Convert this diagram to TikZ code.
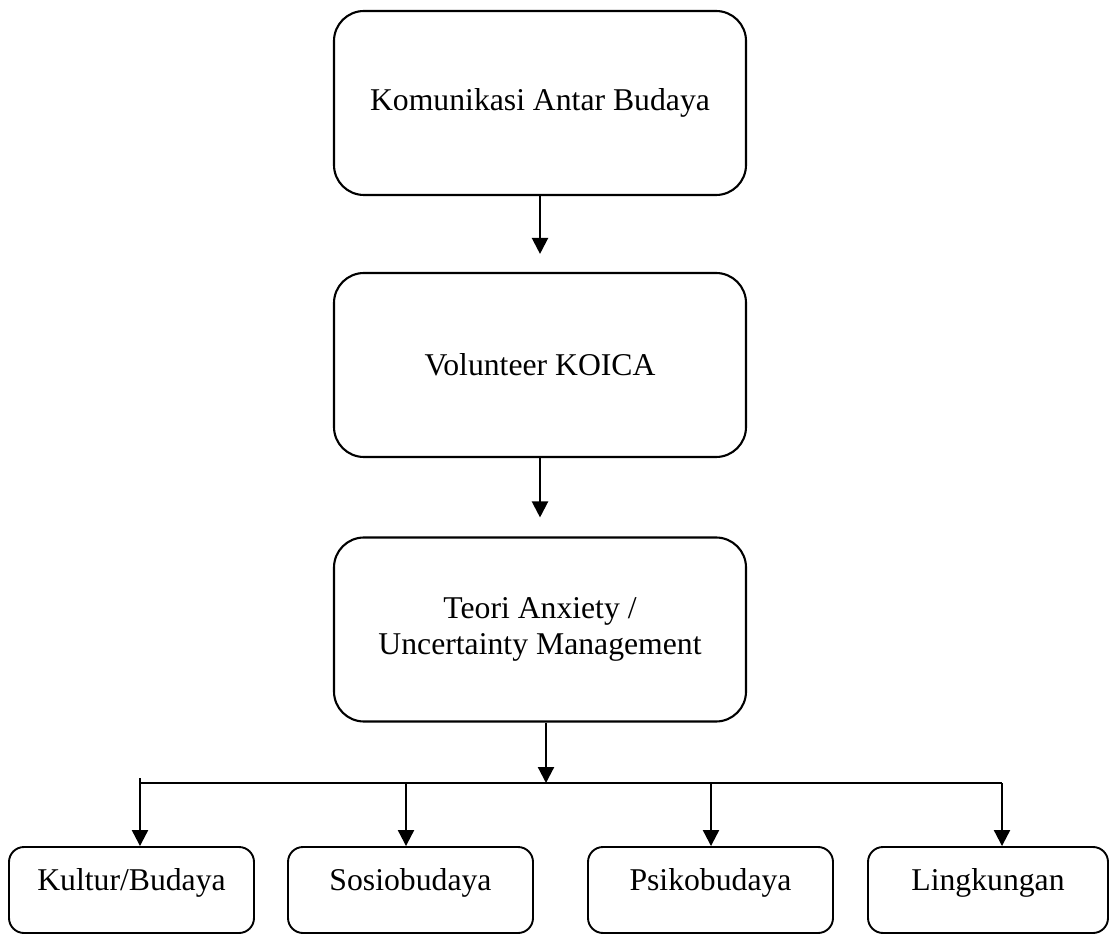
\documentclass[tikz,border=0pt]{standalone}
\usepackage{fontspec}
\setmainfont{Liberation Serif}
\usetikzlibrary{arrows.meta}
\tikzset{
  mainbox/.style={
    rounded corners=30pt,
    draw=black,
    line width=2.1pt,
    fill=white,
    align=center,
    font=\fontsize{31.7}{36}\selectfont,
    minimum width=412pt,
    minimum height=184pt
  },
  subbox/.style={
    rounded corners=15pt,
    draw=black,
    line width=1.9pt,
    fill=white,
    font=\fontsize{31.7}{36}\selectfont,
    text height=24pt,
    text depth=24pt,
    minimum width=245pt,
    minimum height=86pt
  },
  flowarrow/.style={line width=2.2pt, draw=black, -{Triangle[length=16pt, width=16pt]}},
  busline/.style={line width=1.7pt, draw=black}
}

\begin{document}
\begin{tikzpicture}[x=1pt,y=1pt]
\path[use as bounding box] (0,0) rectangle (1110,935);
\fill[white] (0,0) rectangle (1110,935);

\node[mainbox] (budaya) at (540,832) {Komunikasi Antar Budaya};
\node[mainbox] (koica) at (540,570) {Volunteer KOICA};
\node[mainbox] (teori) at (540,305.5) {Teori Anxiety /\\Uncertainty Management};

\node[subbox] (kultur) at (131.5,45) {Kultur/Budaya};
\node[subbox] (sosio) at (410.5,45) {Sosiobudaya};
\node[subbox] (psiko) at (710.5,45) {Psikobudaya};
\node[subbox, minimum width=240pt] (lingk) at (988,45) {Lingkungan};

% bus line under the theory box
\coordinate (busW) at (140,152);
\coordinate (busS) at (406,152);
\coordinate (busM) at (546,152);
\coordinate (busP) at (711,152);
\coordinate (busE) at (1002,152);

\draw[flowarrow, shorten >=18pt] (budaya) -- (koica);
\draw[flowarrow, shorten >=19pt] (koica) -- (teori);
\draw[flowarrow] (teori.south -| busM) -- (busM);
\draw[busline] (busW) -- (busE);
\draw[flowarrow] ([yshift=5pt]busW) -- (busW |- kultur.north);
\draw[flowarrow] (busS) -- (busS |- sosio.north);
\draw[flowarrow] (busP) -- (busP |- psiko.north);
\draw[flowarrow] (busE) -- (busE |- lingk.north);

\end{tikzpicture}
\end{document}
